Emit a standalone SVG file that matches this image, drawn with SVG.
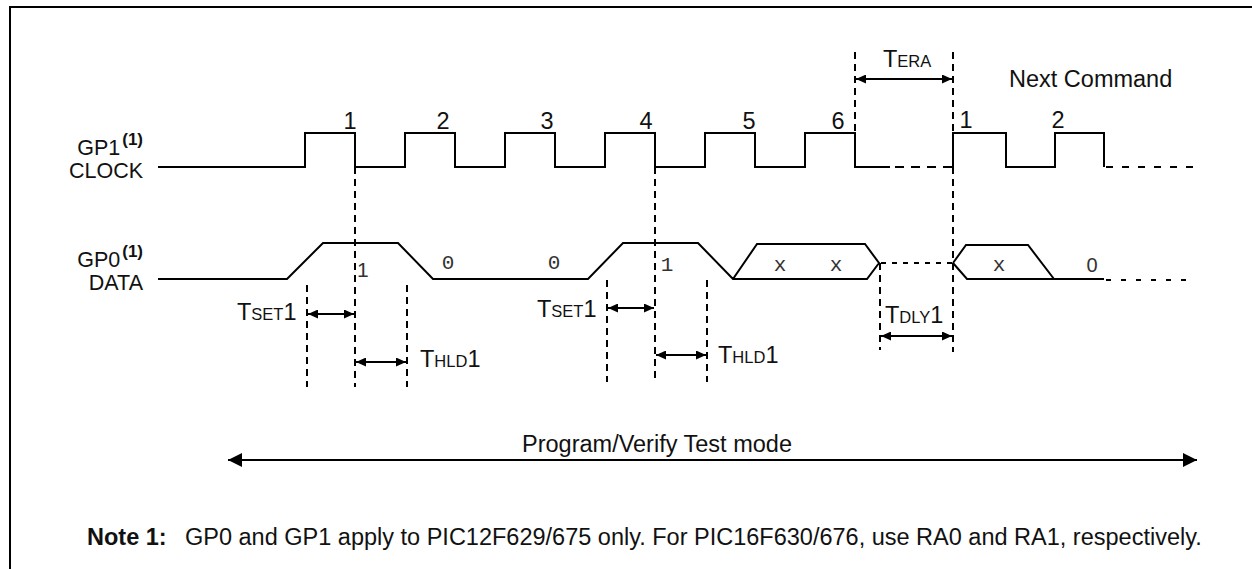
<svg xmlns="http://www.w3.org/2000/svg" width="1252" height="569" viewBox="0 0 1252 569">
<style>
.frame{fill:none;stroke:#000;stroke-width:2}
.wave{fill:none;stroke:#000;stroke-width:2;stroke-linejoin:miter}
.dot{fill:none;stroke:#000;stroke-width:2;stroke-dasharray:6 8}
.vdash{fill:none;stroke:#000;stroke-width:2;stroke-dasharray:7 5}
.dim{fill:none;stroke:#000;stroke-width:2;marker-start:url(#ah);marker-end:url(#ah)}
.big{fill:none;stroke:#000;stroke-width:2;marker-start:url(#ahb);marker-end:url(#ahb)}
text{font-family:"Liberation Sans",Arial,sans-serif;font-size:23.5px;fill:#111}
.side{font-size:21.5px}
.sc{font-size:16.5px}
.mono{font-family:"Liberation Mono","Courier New",monospace;font-size:21px;fill:#333}
.sup{font-size:17px;font-weight:bold}
.num{text-anchor:middle}
</style>
<defs>
<marker id="ah" viewBox="0 0 10 9" markerWidth="10" markerHeight="9" refX="10" refY="4.5" orient="auto-start-reverse" markerUnits="userSpaceOnUse">
<path d="M0,0 L10,4.5 L0,9 z" fill="#000"/>
</marker>
<marker id="ahb" viewBox="0 0 14 14" markerWidth="14" markerHeight="14" refX="14" refY="7" orient="auto-start-reverse" markerUnits="userSpaceOnUse">
<path d="M0,0 L14,7 L0,14 z" fill="#000"/>
</marker>
</defs>
<g id="frame">
<path class="frame" d="M10,569 V7 H1252"/>
</g>
<g id="labels">
<text class="side" x="143" y="155" text-anchor="end">GP1<tspan class="sup" dx="2" dy="-10">(1)</tspan></text>
<text class="side" x="143" y="178" text-anchor="end">CLOCK</text>
<text class="side" x="143" y="267" text-anchor="end">GP0<tspan class="sup" dx="2" dy="-10">(1)</tspan></text>
<text class="side" x="143" y="290" text-anchor="end">DATA</text>
</g>
<g id="clock">
<path class="wave" d="M158,167 H305 V133 H355 V167 H405 V133 H455 V167 H505 V133 H555 V167 H605 V133 H655 V167 H705 V133 H755 V167 H805 V133 H855 V167 H890"/>
<path class="dot" d="M895,167 H953" style="stroke-dasharray:9 7"/>
<path class="wave" d="M953,167 V133 H1006 V167 H1055 V133 H1104 V167"/>
<path class="dot" d="M1106,167 H1193" style="stroke-dasharray:7 9"/>
<text class="num" x="350" y="129">1</text>
<text class="num" x="443" y="129">2</text>
<text class="num" x="547" y="129">3</text>
<text class="num" x="646" y="129">4</text>
<text class="num" x="749" y="129">5</text>
<text class="num" x="838" y="129">6</text>
<text class="num" x="966" y="128">1</text>
<text class="num" x="1058" y="128">2</text>
<text x="1009" y="87">Next Command</text>
</g>
<g id="data">
<path class="wave" d="M158,279 H287 L323,243 H398 L433,279 H588 L623,243 H698 L733,279 H867 L879,263 L865,244 H757 L733,279"/>
<path class="dot" d="M881,263 H953" style="stroke-dasharray:5 6"/>
<path class="wave" d="M953,263 L966,245 H1028 L1054,279 M953,263 L967,279 H1104"/>
<path class="dot" d="M1106,280 H1193" style="stroke-dasharray:5 10"/>
<text x="357" y="277" style="font-size:21px;fill:#333">1</text>
<text class="mono num" x="448" y="269">0</text>
<text class="mono num" x="554" y="269">0</text>
<text class="mono num" x="667" y="271">1</text>
<text class="mono num" x="780" y="271">x</text>
<text class="mono num" x="836" y="271">x</text>
<text class="mono num" x="999" y="271">x</text>
<text class="num" x="1092" y="272" style="font-size:20px;fill:#333">0</text>
</g>
<g id="connectors">
<path class="vdash" d="M355,167 V387 M655,167 V382 M307,285 V387 M407,285 V387 M607,280 V382 M707,280 V382 M855,52 V133 M953,52 V133 M953,167 V352 M880,263 V350"/>
<path class="dim" d="M856,79 H952"/>
<path class="dim" d="M308,314 H354"/>
<path class="dim" d="M356,362 H406"/>
<path class="dim" d="M608,308 H654"/>
<path class="dim" d="M656,355 H706"/>
<path class="dim" d="M881,336 H952"/>
<path class="big" d="M228,460 H1197"/>
</g>
<g id="timing-labels">
<text x="883" y="67">T<tspan class="sc">ERA</tspan></text>
<text x="237" y="320">T<tspan class="sc">SET</tspan>1</text>
<text x="420" y="367">T<tspan class="sc">HLD</tspan>1</text>
<text x="537" y="317">T<tspan class="sc">SET</tspan>1</text>
<text x="718" y="363">T<tspan class="sc">HLD</tspan>1</text>
<text x="885" y="323">T<tspan class="sc">DLY</tspan>1</text>
<text x="657" y="452" text-anchor="middle">Program/Verify Test mode</text>
</g>
<g id="note">
<text x="87" y="545"><tspan font-weight="bold">Note 1:</tspan><tspan x="185">GP0 and GP1 apply to PIC12F629/675 only. For PIC16F630/676, use RA0 and RA1, respectively.</tspan></text>
</g>
</svg>
